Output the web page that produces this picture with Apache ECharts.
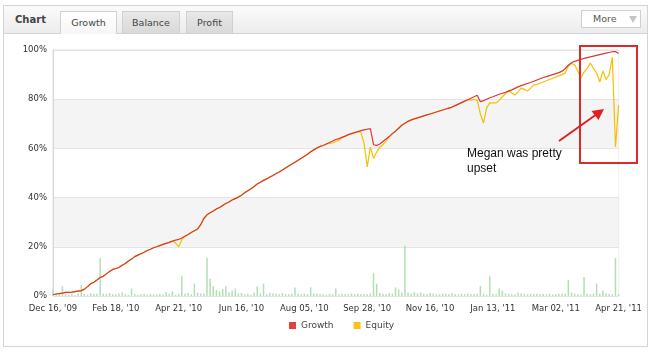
<!DOCTYPE html>
<html><head><meta charset="utf-8">
<script src="https://cdn.jsdelivr.net/npm/echarts@6/dist/echarts.min.js"></script>
<style>
html,body{margin:0;padding:0;background:#fff;width:655px;height:361px;overflow:hidden;font-family:"DejaVu Sans",sans-serif;}
#panel{position:absolute;left:3px;top:5px;width:643px;height:340px;border:1px solid #d4d4d4;background:#fff;}
#head{position:absolute;left:4px;top:6px;width:643px;height:27px;background:linear-gradient(#fbfbfb,#ececec);border-bottom:1px solid #d2d2d2;}
#ttl{left:15px;top:14px;font-weight:bold;font-size:10px;color:#444;position:absolute;}
.tab{position:absolute;top:11px;height:22px;border:1px solid #d0d0d0;border-bottom:none;box-sizing:border-box;font-size:9.5px;color:#444;text-align:center;line-height:22px;}
#tg{left:60px;width:57px;background:linear-gradient(#ffffff,#f6f6f6);height:23px;}
#tb{left:122px;width:58px;background:linear-gradient(#e8e8e8,#d9d9d9);}
#tp{left:186px;width:47px;background:linear-gradient(#e8e8e8,#d9d9d9);}
#more{position:absolute;left:581px;top:10px;width:60px;height:18px;box-sizing:border-box;border:1px solid #cfcfcf;background:#fff;font-size:9.5px;color:#555;line-height:16px;}
#more span{position:absolute;left:11px;}
#more i{position:absolute;left:47px;top:5px;width:0;height:0;border-left:4px solid transparent;border-right:4px solid transparent;border-top:7px solid #c4c4c4;}
#chart{position:absolute;left:0;top:34px;width:645px;height:310px;}
</style></head><body>
<div id="panel"></div>
<div id="head"></div>
<div id="ttl">Chart</div>
<div class="tab" id="tg">Growth</div>
<div class="tab" id="tb">Balance</div>
<div class="tab" id="tp">Profit</div>
<div id="more"><span>More</span><i></i></div>
<div id="chart"></div>
<script>
var tickLabels = ["Dec 16, '09","Feb 18, '10","Apr 21, '10","Jun 16, '10","Aug 05, '10","Sep 28, '10","Nov 16, '10","Jan 13, '11","Mar 02, '11","Apr 21, '11"];
var yTicks = [0,20,40,60,80,100];
var growth = [
0.5,0.8,1.0,1.2,1.5,1.5,1.6,1.8,2.0,2.2,
2.8,3.8,5.0,5.6,6.5,7.5,8.0,9.0,10.0,10.8,
11.2,11.6,12.5,13.2,14.2,15.0,16.0,16.6,17.2,17.8,
18.5,19.0,19.6,20.0,20.5,21.0,21.4,21.8,22.3,22.7,
23.0,23.6,24.3,25.0,25.8,26.5,27.2,29.0,31.5,33.0,
33.8,34.6,35.4,36.0,36.8,37.6,38.2,39.0,39.6,40.2,
41.0,42.0,42.8,43.6,44.5,45.5,46.2,47.0,47.6,48.4,
49.0,49.8,50.4,51.2,52.0,52.8,53.6,54.4,55.2,56.0,
56.8,57.6,58.6,59.4,60.2,60.8,61.2,61.8,62.4,63.0,
63.6,64.0,64.5,65.0,65.6,66.0,66.4,66.8,67.2,67.5,
67.8,68.0,61.5,61.2,61.8,62.8,63.8,64.8,66.0,67.0,
68.2,69.4,70.2,71.0,71.6,72.0,72.4,72.8,73.2,73.6,
74.0,74.4,74.8,75.2,75.6,76.0,76.4,76.8,77.4,78.0,
78.6,79.2,79.8,80.4,81.0,81.6,79.0,79.4,80.0,80.6,
81.0,81.5,82.0,82.4,82.8,83.3,83.8,84.4,85.0,85.5,
86.0,86.4,86.8,87.3,87.8,88.3,88.8,89.2,89.6,90.0,
90.4,90.8,91.4,92.4,93.8,94.8,95.4,95.8,96.2,96.6,
96.9,97.2,97.5,97.8,98.1,98.4,98.7,99.0,99.3,99.4,
98.6];
var equity = [
0.5,0.8,1.0,1.2,1.5,1.5,1.6,1.8,2.0,2.2,
2.8,3.8,5.0,5.6,6.5,7.5,8.0,9.0,10.0,10.8,
11.2,11.6,12.5,13.2,14.2,15.0,16.0,16.6,17.2,17.8,
18.5,19.0,19.6,20.0,20.5,21.0,21.4,21.8,22.3,21.5,
20.0,22.8,24.3,25.0,25.8,26.5,27.2,29.0,31.5,33.0,
33.8,34.6,35.4,36.0,36.8,37.6,38.2,39.0,39.6,40.2,
41.0,42.0,42.8,43.6,44.5,45.5,46.2,47.0,47.6,48.4,
49.0,49.8,50.4,51.2,52.0,52.8,53.6,54.4,55.2,56.0,
56.8,57.6,58.6,59.4,60.2,60.8,61.2,61.8,62.0,62.2,
62.8,63.2,64.5,65.0,65.6,66.0,66.4,66.8,66.5,62.0,
52.5,60.5,56.0,58.5,60.5,61.5,63.0,64.8,66.0,67.0,
68.2,69.4,70.2,71.0,71.6,72.0,72.4,72.8,73.2,73.6,
74.0,74.4,74.8,75.2,75.6,76.0,76.4,76.8,77.4,78.0,
78.6,79.2,79.8,79.6,80.0,79.5,74.0,70.3,76.5,78.5,
78.5,78.5,79.5,81.0,82.2,83.5,82.5,81.7,83.0,84.5,
84.0,83.3,84.5,85.8,86.0,86.5,87.0,87.5,88.0,88.5,
89.0,89.5,90.0,90.6,93.5,94.5,94.0,91.5,88.6,91.0,
92.5,94.7,92.5,90.6,87.0,91.5,88.0,90.0,97.0,60.6,
77.6];
var profit = [
2.4,0.9,0.6,4.0,0.8,0.5,0.9,0.4,1.0,4.5,
0.8,0.5,1.2,0.8,0.9,15.4,1.0,0.9,1.2,0.8,
0.7,1.0,1.5,0.8,0.5,3.0,0.8,0.5,0.7,0.9,
0.5,0.8,0.7,0.6,0.8,0.5,1.6,0.9,2.0,0.5,
0.8,8.0,0.9,1.2,0.7,5.0,1.3,1.0,0.9,15.4,
7.0,4.0,2.4,1.8,2.8,4.0,1.5,2.2,3.0,1.0,
1.2,0.7,0.9,0.5,1.4,4.0,1.0,5.0,0.7,1.2,
1.0,0.9,0.7,1.2,0.8,0.7,0.9,3.5,0.9,0.7,
1.0,0.8,3.5,0.9,1.0,0.7,0.7,0.5,0.9,0.7,
3.0,0.7,0.9,0.8,0.7,1.0,0.7,0.9,0.7,0.8,
0.7,1.0,9.4,5.0,1.2,0.9,0.7,1.2,0.9,3.5,
2.6,1.4,20.5,1.4,1.0,1.6,1.1,1.4,0.9,0.7,
1.2,0.9,0.7,0.7,1.0,0.9,0.8,1.1,0.7,0.7,
0.9,0.7,0.9,0.7,0.8,0.9,4.0,0.9,0.5,8.0,
0.9,0.7,3.0,2.2,1.0,0.9,0.7,0.7,1.4,1.0,
0.9,0.7,0.8,0.7,0.9,0.7,0.8,0.7,0.9,0.6,
0.7,0.9,1.0,0.9,6.5,1.4,1.0,0.7,0.5,7.7,
0.9,0.7,1.0,5.0,0.9,2.2,1.0,0.9,0.7,15.4,
0.8];
var seriesNames = ["Growth","Equity"];

var xCats = growth.map(function(v,i){ return i % 20 === 0 ? tickLabels[i/20] : String(i); });

var chart = echarts.init(document.getElementById('chart'), null, {renderer:'canvas'});
var fnt = '"DejaVu Sans", sans-serif';
chart.setOption({
  animation:false,
  grid:{left:53,right:24,top:16,bottom:48,show:true,borderColor:'#dedede',borderWidth:1,backgroundColor:'transparent'},
  legend:{data:seriesNames,left:284,top:282,icon:'rect',itemWidth:7,itemHeight:7,itemGap:20,
    textStyle:{fontFamily:fnt,fontSize:9,color:'#444'}},
  xAxis:{type:'category',data:xCats,boundaryGap:false,
    axisLine:{show:false},axisTick:{show:false},splitLine:{show:false},
    axisLabel:{interval:19,margin:8,color:'#333',fontFamily:fnt,fontSize:8.5,
      formatter:function(v,i){return i%20===0?tickLabels[i/20]:'';}}},
  yAxis:{type:'value',min:yTicks[0],max:yTicks[yTicks.length-1],interval:20,
    axisLine:{show:true,lineStyle:{color:'#d8d8d8'}},axisTick:{show:false},
    splitLine:{lineStyle:{color:'#e4e4e4'}},
    splitArea:{show:true,areaStyle:{color:['#ffffff','#f4f4f4']}},
    axisLabel:{margin:6,color:'#333',fontFamily:fnt,fontSize:8.5,formatter:'{value}%'}},
  series:[
    {name:'Profit',type:'bar',data:profit,barWidth:1.5,itemStyle:{color:'#b3deb3'},silent:true},
    {name:'Equity',type:'line',data:equity,showSymbol:false,lineStyle:{width:1.2,color:'#f5c000'},itemStyle:{color:'#f7c31a'}},
    {name:'Growth',type:'line',data:growth,showSymbol:false,lineStyle:{width:1.2,color:'#d9392e'},itemStyle:{color:'#e2433a'}}
  ],
  graphic:[
    {type:'rect',shape:{x:580,y:12,width:57,height:117},style:{fill:'none',stroke:'#db2a2a',lineWidth:2},z:100},
    {type:'line',shape:{x1:559,y1:107,x2:597,y2:80},style:{stroke:'#e02020',lineWidth:2},z:100},
    {type:'polygon',shape:{points:[[604,75],[598.5,86],[591.5,77]]},style:{fill:'#e02020'},z:100},
    {type:'text',x:467,y:112,style:{text:'Megan was pretty\nupset',fill:'#111',font:'12px "Liberation Sans", Arial, sans-serif',lineHeight:15},z:100}
  ]
});
</script>
</body></html>
